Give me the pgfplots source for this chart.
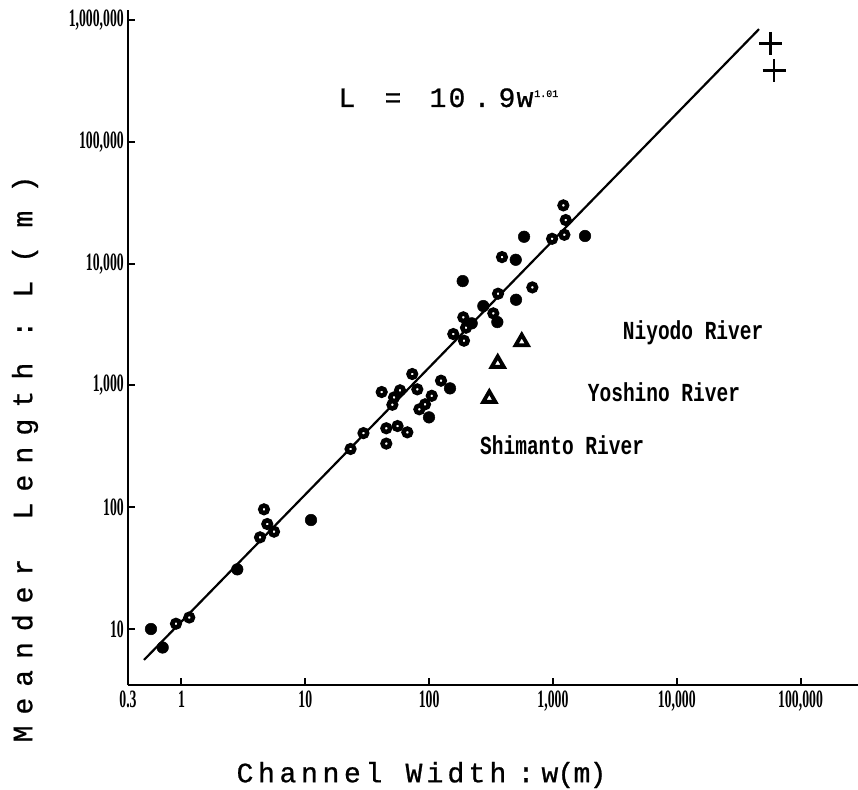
\documentclass[border=0pt]{standalone}
\usepackage{fontspec}
\usepackage{pgfplots}
\pgfplotsset{compat=1.18}
\newfontfamily\tickfont[FakeStretch=0.55]{Liberation Serif}
\newfontfamily\labfont[FakeBold=0.8]{Liberation Mono}
\newfontfamily\annfont[FakeStretch=0.75]{Liberation Mono}
\newlength\spcpitch
\def\spc#1#2{\setlength\spcpitch{#1}\spcloop#2\relax}
\def\spcloop#1{\ifx\relax#1\else\makebox[\spcpitch][c]{#1}\expandafter\spcloop\fi}
\begin{document}
\begin{tikzpicture}[x=1pt,y=1pt]
\path[use as bounding box] (0,0) rectangle (858,789);
\begin{axis}[
  at={(128pt,104pt)}, anchor=south west,
  scale only axis, width=730pt, height=675pt,
  xmode=log, ymode=log,
  xmin=0.370, xmax=2.91e5, ymin=3.47, ymax=1.21e6,
  axis x line=bottom, axis y line=left,
  axis line style={-, line width=2.4pt, black},
  xtick={0.370,1,10,100,1000,10000,100000},
  xticklabels={0.3,1,10,100,{1,000},{10,000},{100,000}},
  ytick={10,100,1000,10000,100000,1000000},
  yticklabels={10,100,{1,000},{10,000},{100,000},{1,000,000}},
  xminorticks=false, yminorticks=false,
  xtick align=inside, ytick align=inside,
  major tick length=7pt,
  tick style={line width=2pt, black},
  ticklabel style={font=\tickfont\bfseries\fontsize{25pt}{27pt}\selectfont},
  yticklabel style={inner sep=4pt},
  xticklabel style={inner sep=6pt},
  clip=false,
]
\addplot[black, line width=2.2pt] coordinates {(0.498,5.57) (46200,843000)};
% open rings
\addplot[only marks, mark=*, mark size=3.75pt, mark options={draw=black, fill=white, line width=4.5pt}] table {
x y
0.903 11.05
1.156 12.43
4.31 56.6
4.64 96.1
4.93 72.8
5.59 63.0
23.2 300.7
29.5 406
45.1 445
45.1 333
55.6 464
66.7 412
41.4 883
50.5 694
52.1 798
58.2 912
73.1 1241
80.3 929
105 822
92.7 700
83.4 637
124.8 1094
156.8 2642
191.3 2329
198.7 2980
188.9 3625
330 3909
360.2 5664
682 6383
388 11320
984 16000
1214 30100
1269 22800
1237 17260
};
% filled dots
\addplot[only marks, mark=*, mark size=5.8pt, mark options={draw=black, fill=black, line width=0.5pt}] table {
x y
0.567 10.0
0.705 7.05
2.823 30.9
11.12 78.5
99.8 547
147.5 946
220.8 3237
274 4486
355.6 3313
503.6 5053
186.8 7194
500.8 10760
584.6 16630
1816 16870
};
% triangles
\addplot[only marks, mark=triangle, mark size=7pt, mark options={draw=black, fill=white, line width=3.8pt}] table {
x y
306.4 783
358.3 1518
559.9 2286
};
% crosses
\addplot[only marks, mark=+, mark size=11.5pt, mark options={draw=black, line width=2.6pt}] table {
x y
57000 644000
61100 384000
};
\end{axis}
% axis labels
\node[anchor=center, inner sep=0] at (420.1,14) {\labfont\fontsize{28pt}{30pt}\selectfont\spc{21.5pt}{Channel}\hspace{18.75pt}\spc{21pt}{Width}\hspace{7pt}\spc{21pt}{:}\hspace{5.5pt}\spc{16pt}{w(m)}};
\node[anchor=center, inner sep=0, rotate=90] at (25,331.8) {\labfont\fontsize{28pt}{30pt}\selectfont\spc{27.8pt}{Meander}\hspace{28.1pt}\spc{28pt}{Length}\hspace{14pt}\spc{28pt}{:}\hspace{8.5pt}\spc{35pt}{L(m)}};
% equation
\begin{scope}[every node/.style={anchor=base, inner sep=0, font=\labfont\fontsize{28pt}{30pt}\selectfont}]
\node at (347,682) {L};
\node at (393,682) {=};
\node at (438,682) {1};
\node at (457,682) {0};
\node at (482,682) {.};
\node at (507,682) {9};
\node at (525,682) {w};
\node[font=\labfont\fontsize{10pt}{11pt}\selectfont, anchor=base west] at (534,692) {1.01};
\end{scope}
% annotations
\begin{scope}[every node/.style={anchor=base west, inner sep=0, font=\annfont\bfseries\fontsize{26pt}{28pt}\selectfont}]
\node at (622.7,449) {\spc{11.7pt}{Niyodo~River}};
\node at (587.7,387.3) {\spc{11.7pt}{Yoshino~River}};
\node at (480,334) {\spc{11.7pt}{Shimanto~River}};
\end{scope}
\end{tikzpicture}
\end{document}
